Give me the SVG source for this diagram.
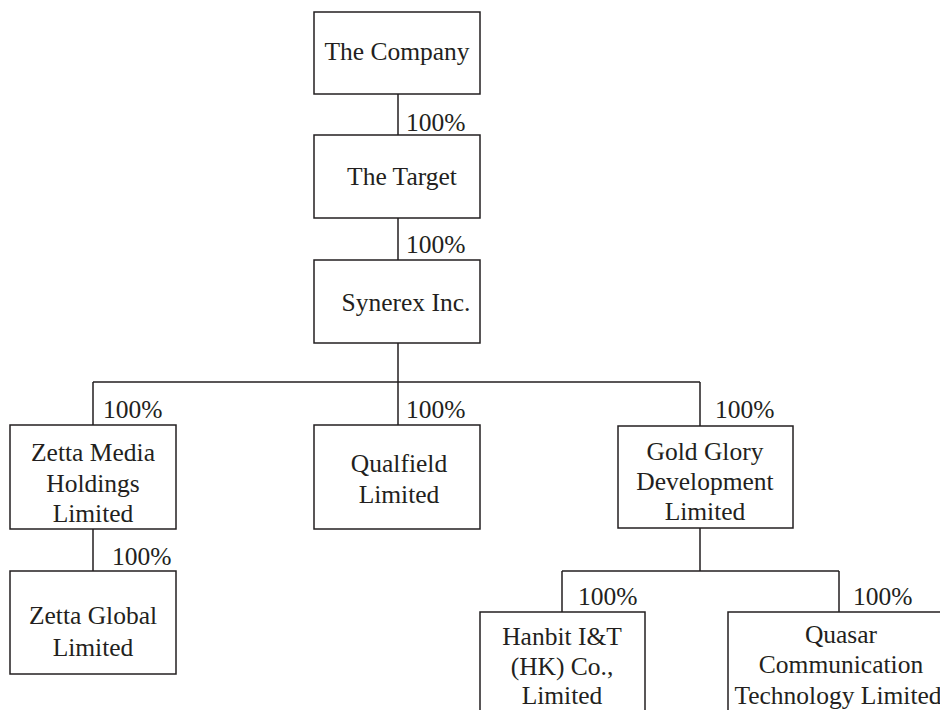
<svg xmlns="http://www.w3.org/2000/svg" width="940" height="710" viewBox="0 0 940 710">
<style>
.box{fill:#fff;stroke:#231f20;stroke-width:1.5}
.ln{fill:none;stroke:#231f20;stroke-width:1.5}
text{font-family:"Liberation Serif","Times New Roman",serif;font-size:25.5px;fill:#231f20}
.c{text-anchor:middle}
</style>
<rect width="940" height="710" fill="#fff"/>
<g id="connectors">
<path class="ln" d="M398 94V135M398 218V260M398 343V382M93 382H700M93 382V425M398 382V425M700 382V426M93 529V571M700 528V571M562 571H839M562 571V612M839 571V612"/>
<text x="406" y="131">100%</text>
<text x="406" y="253">100%</text>
<text x="103" y="418">100%</text>
<text x="406" y="418">100%</text>
<text x="715" y="418">100%</text>
<text x="112" y="565">100%</text>
<text x="578" y="605">100%</text>
<text x="853" y="605">100%</text>
</g>
<g id="company"><rect class="box" x="314" y="12" width="166" height="82"/><text class="c" x="397" y="60">The Company</text></g>
<g id="target"><rect class="box" x="314" y="135" width="166" height="83"/><text class="c" x="402" y="185">The Target</text></g>
<g id="synerex"><rect class="box" x="314" y="260" width="166" height="83"/><text class="c" x="406" y="311">Synerex Inc.</text></g>
<g id="zettamedia"><rect class="box" x="10" y="425" width="166" height="104"/><text class="c" x="93"><tspan x="93" y="461">Zetta Media</tspan><tspan x="93" y="492">Holdings</tspan><tspan x="93" y="522">Limited</tspan></text></g>
<g id="qualfield"><rect class="box" x="314" y="425" width="166" height="104"/><text class="c" x="399"><tspan x="399" y="472">Qualfield</tspan><tspan x="399" y="503">Limited</tspan></text></g>
<g id="goldglory"><rect class="box" x="618" y="426" width="175" height="102"/><text class="c" x="705"><tspan x="705" y="460">Gold Glory</tspan><tspan x="705" y="490">Development</tspan><tspan x="705" y="520">Limited</tspan></text></g>
<g id="zettaglobal"><rect class="box" x="10" y="571" width="166" height="103"/><text class="c" x="93"><tspan x="93" y="624">Zetta Global</tspan><tspan x="93" y="656">Limited</tspan></text></g>
<g id="hanbit"><rect class="box" x="480" y="612" width="165" height="120"/><text class="c" x="562"><tspan x="562" y="645">Hanbit I&amp;T</tspan><tspan x="562" y="675">(HK) Co.,</tspan><tspan x="562" y="704">Limited</tspan></text></g>
<g id="quasar"><rect class="box" x="728" y="612" width="226" height="120"/><text class="c" x="841"><tspan x="841" y="643">Quasar</tspan><tspan x="841" y="673">Communication</tspan><tspan x="838" y="704">Technology Limited</tspan></text></g>
</svg>
